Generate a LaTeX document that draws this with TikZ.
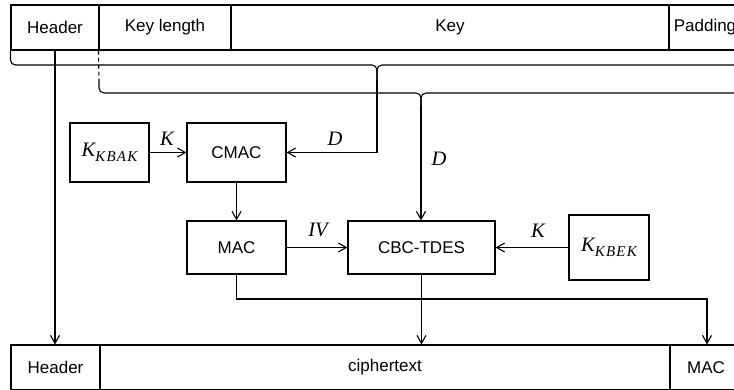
\documentclass[tikz,border=0pt]{standalone}
\usepackage{fontspec}
\setmainfont{Liberation Sans}
\newfontfamily\tms{Liberation Serif}
\usetikzlibrary{arrows.meta}
\newcommand{\lbl}[1]{{\fontsize{20.5}{20}\selectfont\tms\itshape #1}}
\newcommand{\kname}[2]{{\fontsize{20.5}{20}\selectfont\tms\itshape #1\raisebox{-0.27em}{\fontsize{15}{15}\selectfont\addfontfeatures{LetterSpace=8}#2}}}
\begin{document}
\begin{tikzpicture}[x=1pt,y=-1pt,line width=1.1pt,
  box/.style={draw,rectangle,inner sep=0pt,font=\fontsize{17}{20}\selectfont},
  arr/.style={-{Straight Barb[length=8pt,width=9pt]}},
  lab/.style={inner sep=0pt}]
\useasboundingbox (0,0) rectangle (734,389);
\clip (0,0) rectangle (734,389);
% top row
\node[box,minimum width=88pt,minimum height=45pt] (header) at (55,27.5) {Header};
\node[box,minimum width=132pt,minimum height=45pt] (keylen) at (165,27.5) {Key length};
\node[box,minimum width=438pt,minimum height=45pt] (key) at (450,27.5) {Key};
\node[box,minimum width=72pt,minimum height=45pt] (pad) at (705,27.5) {Padding};
% bottom row
\node[box,minimum width=89pt,minimum height=45pt] (hdr2) at (55.5,367.5) {Header};
\node[box,minimum width=570pt,minimum height=45pt] (cipher) at (385,367.5) {ciphertext};
\node[box,minimum width=72pt,minimum height=45pt] (mac2) at (706,367.5) {MAC};
% middle boxes
\node[box,minimum width=79pt,minimum height=59pt] (kbak) at (109.5,152.5) {\kname{K}{KBAK}};
\node[box,minimum width=99pt,minimum height=59pt] (cmac) at (236.5,152.5) {CMAC};
\node[box,minimum width=99pt,minimum height=53pt] (mac) at (236.5,247.5) {MAC};
\node[box,minimum width=147pt,minimum height=53pt] (cbc) at (421.5,247.5) {CBC-TDES};
\node[box,minimum width=80pt,minimum height=65pt] (kbek) at (609,247.5) {\kname{K}{KBEK}};
% brace coordinates
\coordinate (b1) at (377,65);
\coordinate (b1d) at (377,80);
\coordinate (b1r) at (740,65);
\coordinate (b2) at (421,93);
\coordinate (b2d) at (421,105);
\coordinate (b2r) at (740,93);
\coordinate (kd) at (99,82);
\coordinate (mc) at (707,299);
% braces
\draw[rounded corners=5pt] (header.south west) |- (b1) -- (b1d);
\draw[rounded corners=5pt] (b1r) -- (b1) -- (b1d);
\draw[dash pattern=on 4pt off 3pt] (keylen.south west) -- (kd);
\draw[rounded corners=5pt] (kd) |- (b2) -- (b2d);
\draw[rounded corners=5pt] (b2r) -- (b2) -- (b2d);
% connectors
\draw[arr] (header.south) -- (header.south |- hdr2.north);
\draw[arr] (b1d) |- (cmac.east);
\draw[arr] (b2d) -- (b2d |- cbc.north);
\draw[arr] (kbak) -- (cmac);
\draw[arr] (cmac) -- (mac);
\draw[arr] (mac) -- (cbc);
\draw[arr] (kbek) -- (cbc);
\draw[arr] (cbc.south) -- (cbc.south |- cipher.north);
\draw[arr] (mac.south) |- (mc) -- (mc |- mac2.north);
% labels
\node[lab] (lk1) at (167,139) {\lbl{K}};
\node[lab] (ld1) at (335,139) {\lbl{D}};
\node[lab] (liv) at (318,230) {\lbl{IV}};
\node[lab] (ld2) at (439,159) {\lbl{D}};
\node[lab] (lk2) at (538,231) {\lbl{K}};
\end{tikzpicture}
\end{document}
